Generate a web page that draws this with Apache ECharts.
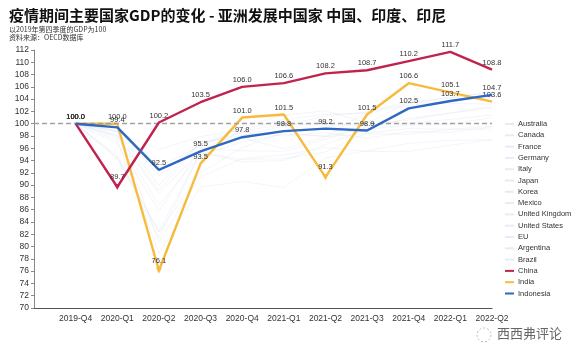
<!DOCTYPE html>
<html>
<head>
<meta charset="utf-8">
<script src="https://cdn.jsdelivr.net/npm/echarts@6/dist/echarts.min.js"></script>
<style>html,body{margin:0;padding:0;background:#fff}#c{width:581px;height:358px}</style>
</head>
<body>
<div id="c"></div>
<script>
const categories = ['2019-Q4','2020-Q1','2020-Q2','2020-Q3','2020-Q4','2021-Q1','2021-Q2','2021-Q3','2021-Q4','2022-Q1','2022-Q2'];
const china     = [100.0, 89.7, 100.2, 103.5, 106.0, 106.6, 108.2, 108.7, 110.2, 111.7, 108.8];
const india     = [100.0, 100.0, 76.1, 93.5, 101.0, 101.5, 91.3, 101.5, 106.6, 105.1, 103.6];
const indonesia = [100.0, 99.4, 92.5, 95.5, 97.8, 98.8, 99.2, 98.9, 102.5, 103.7, 104.7];
const australia = [100, 99.7, 93.0, 96.4, 99.5, 101.4, 102.1, 100.1, 103.5, 104.3, 105.2];
const canada    = [100, 97.8, 86.8, 94.9, 97.0, 98.3, 98.0, 99.3, 100.9, 101.7, 102.6];
const france    = [100, 94.4, 81.5, 95.3, 94.2, 94.3, 95.4, 98.5, 99.2, 99.1, 99.6];
const germany   = [100, 98.2, 89.1, 97.0, 97.7, 95.9, 97.9, 98.4, 98.3, 99.1, 99.1];
const italy     = [100, 94.4, 82.5, 95.3, 93.8, 94.0, 96.6, 99.1, 99.8, 99.9, 101.0];
const japan     = [100, 99.4, 91.5, 96.7, 98.6, 98.0, 98.5, 97.7, 98.7, 98.6, 99.5];
const korea     = [100, 98.7, 95.8, 97.9, 99.0, 100.7, 101.5, 101.7, 103.0, 103.6, 104.3];
const mexico    = [100, 98.9, 80.8, 91.4, 94.3, 94.9, 96.1, 95.5, 95.5, 96.5, 97.4];
const uk        = [100, 97.3, 78.9, 89.7, 90.6, 89.6, 94.4, 95.6, 96.8, 97.3, 97.4];
const us        = [100, 98.7, 90.0, 97.1, 98.1, 99.6, 101.3, 101.9, 103.7, 103.3, 103.2];
const eu        = [100, 96.8, 85.8, 96.0, 95.6, 95.5, 97.5, 99.6, 100.1, 100.7, 101.4];
const argentina = [100, 94.8, 82.3, 92.0, 96.1, 98.6, 97.9, 101.9, 103.3, 104.2, 105.1];
const brazil    = [100, 98.0, 88.6, 95.6, 98.8, 99.9, 99.8, 99.7, 100.6, 101.8, 102.8];
const yTicks = {min: 70, max: 112, interval: 2};
const baseline = 100;

const faint = [
  ['Australia', australia], ['Canada', canada], ['France', france], ['Germany', germany],
  ['Italy', italy], ['Japan', japan], ['Korea', korea], ['Mexico', mexico],
  ['United Kingdom', uk], ['United States', us], ['EU', eu], ['Argentina', argentina], ['Brazil', brazil]
];

function withPad(arr){ return [null].concat(arr); }

function mainData(arr, markMin){
  const out = [null];
  arr.forEach((v, i) => {
    const item = {value: v};
    if (markMin && i > 0 && i < arr.length - 1 && v < arr[i-1] && v < arr[i+1]) {
      item.symbol = 'triangle';
      item.symbolRotate = 180;
      item.symbolSize = 6;
    }
    out.push(item);
  });
  return out;
}

const series = [];
faint.forEach(([name, arr], k) => {
  const s = {
    name, type: 'line', data: withPad(arr), showSymbol: false, symbol: 'none',
    lineStyle: {width: 0.8, color: 'rgba(185,198,222,0.22)'},
    itemStyle: {color: 'rgba(185,198,222,0.35)'},
    silent: true, z: 1
  };
  if (k === 0) {
    s.markLine = {
      silent: true, symbol: 'none', label: {show: false},
      lineStyle: {type: [5, 3], color: '#a0a0a0', width: 1.3},
      data: [{yAxis: baseline}]
    };
  }
  series.push(s);
});

const labelBase = {show: true, position: 'top', distance: 3, fontSize: 7.5, color: '#333', fontFamily: 'Liberation Sans, Arial, sans-serif',
  formatter: p => (p.value == null || p.value === '-') ? '' : Number(p.value).toFixed(1)};

function mainSeries(name, data, color, z){
  return {
    name, type: 'line', data, symbol: 'circle', symbolSize: 0, showSymbol: true, showAllSymbol: true,
    lineStyle: {width: 2.4, color}, itemStyle: {color},
    label: labelBase, labelLayout: {hideOverlap: false}, z
  };
}

series.push(mainSeries('China', mainData(china, true), '#c0234e', 5));
const indiaData = mainData(india, true);
indiaData[indiaData.length - 1].label = {offset: [0, 8]};
series.push(mainSeries('India', indiaData, '#f6bb3c', 4));
series.push(mainSeries('Indonesia', mainData(indonesia, false), '#2f68c2', 6));

const chart = echarts.init(document.getElementById('c'), null, {renderer: 'canvas'});
chart.setOption({
  animation: false,
  backgroundColor: '#fff',
  textStyle: {fontFamily: 'Liberation Sans, Arial, "Noto Sans CJK SC", sans-serif'},
  title: {
    text: '疫情期间主要国家GDP的变化 - 亚洲发展中国家 中国、印度、印尼',
    subtext: '以2019年第四季度的GDP为100\n资料来源：OECD数据库',
    left: 4, top: 3, itemGap: 2,
    textStyle: {fontSize: 15, fontWeight: 'bold', color: '#111', fontFamily: '"Noto Sans CJK SC", sans-serif'},
    subtextStyle: {fontSize: 7, color: '#333', lineHeight: 8, fontFamily: '"Noto Sans CJK SC", sans-serif'}
  },
  grid: {left: 34, right: 89, top: 50, bottom: 50, containLabel: false},
  legend: {
    orient: 'vertical', left: 500, top: 114,
    itemWidth: 9, itemHeight: 2, itemGap: 1.3, icon: 'rect',
    textStyle: {fontSize: 7.5, color: '#333', lineHeight: 10, padding: [0,0,0,-1]},
    data: faint.map(f => f[0]).concat(['China', 'India', 'Indonesia'])
  },
  xAxis: {
    type: 'category', data: [''].concat(categories), boundaryGap: false,
    axisLine: {lineStyle: {color: '#555', width: 1.2}},
    axisTick: {show: false},
    axisLabel: {fontSize: 8.5, color: '#333', margin: 6, interval: 0}
  },
  yAxis: {
    type: 'value', min: yTicks.min, max: yTicks.max, interval: yTicks.interval,
    axisLine: {show: true, lineStyle: {color: '#888'}},
    axisTick: {show: true, length: 3, lineStyle: {color: '#888'}},
    splitLine: {show: false},
    axisLabel: {fontSize: 8.5, color: '#333', margin: 5}
  },
  graphic: [
    {type: 'circle', shape: {cx: 484, cy: 335, r: 7}, style: {fill: 'none', stroke: '#bbb', lineWidth: 1, lineDash: [2, 2]}},
    {type: 'text', left: 497, top: 327, style: {text: '西西弗评论', fontSize: 13, fill: '#666', fontFamily: '"Noto Sans CJK SC", sans-serif'}}
  ],
  series
});
</script>
</body>
</html>
